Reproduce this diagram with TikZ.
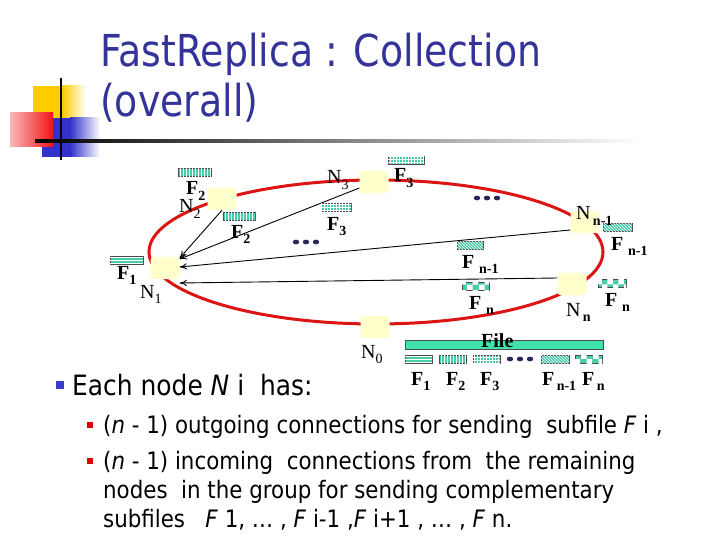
\documentclass[tikz,border=0pt]{standalone}
\usepackage{fontspec}
\setmainfont{DejaVu Sans}[FakeStretch=0.86]
\newfontfamily\bodyfont{DejaVu Sans}[FakeStretch=0.89]
\newfontfamily\labelfont{Liberation Serif}
\usetikzlibrary{arrows.meta, patterns}
\definecolor{titleblue}{RGB}{51, 51, 153}
\definecolor{ringred}{RGB}{220, 20, 20}
\definecolor{peeryellow}{RGB}{255, 255, 204}
\definecolor{barteal}{RGB}{72, 204, 170}
\definecolor{filegreen}{RGB}{64, 228, 170}
\definecolor{dotnavy}{RGB}{40, 40, 90}
\definecolor{logoyellow}{RGB}{255, 204, 0}
\definecolor{logored}{RGB}{240, 20, 20}
\definecolor{logoblue}{RGB}{51, 51, 204}
\definecolor{bulletblue}{RGB}{60, 60, 200}
\definecolor{bulletred}{RGB}{220, 0, 0}
\newcommand{\subF}[1]{\textbf{F}\raisebox{-0.28em}{\fontsize{14}{14}\selectfont\textbf{#1}}}
\newcommand{\subN}[1]{N\raisebox{-0.28em}{\fontsize{14}{14}\selectfont #1}}
\tikzset{
  % Peer node (soft yellow square).
  peer/.style={
    rectangle, rounded corners=3pt,
    fill=peeryellow,
    minimum width=29pt, minimum height=22pt,
    inner sep=0pt,
  },
  % Subfile bars.
  subbar/.style={
    rectangle, draw=black!70, line width=0.5pt,
    fill=barteal,
    minimum width=#1, minimum height=8pt,
    inner sep=0pt,
  },
  bar-hline/.style={subbar=#1, postaction={pattern=horizontal lines, pattern color=white}},
  bar-vline/.style={subbar=#1, postaction={pattern=vertical lines, pattern color=white}},
  bar-grid/.style ={subbar=#1, postaction={pattern=grid, pattern color=white}},
  bar-diag/.style ={subbar=#1, postaction={pattern=north west lines, pattern color=white}},
  bar-check/.style={subbar=#1, postaction={pattern=checkerboard, pattern color=white}},
  % Labels.
  lbl/.style={font=\labelfont\fontsize{20}{22}\selectfont, inner sep=0pt, anchor=base west},
  body/.style={font=\bodyfont\fontsize{24}{29}\selectfont, inner sep=0pt, anchor=base west},
  % Transfer arrows.
  send/.style={-{To[length=2.5mm, width=2.2mm]}, line width=0.9pt},
}
\begin{document}
\begin{tikzpicture}[x=1pt, y=-1pt]
  \useasboundingbox (0,0) rectangle (720,540);

  % Logo.
  \fill[logoyellow] (33,86) rectangle (62,118);
  \shade[left color=logoyellow, right color=white] (62,86) rectangle (86,118);
  \fill[logoblue] (42,118) rectangle (70,157);
  \shade[left color=logoblue, right color=white] (70,118) rectangle (100,157);
  \shade[left color=logored!30, right color=logored] (10,113) rectangle (53,147);
  \shade[left color=black, right color=white] (35,140) rectangle (640,142.5);
  \draw[line width=2pt] (61,78) -- (61,160);

  % Title.
  \node[anchor=base west, inner sep=0pt, text=titleblue, font=\fontsize{44}{48}\selectfont]
    (title1) at (100,67) {FastReplica : Collection};
  \node[anchor=base west, inner sep=0pt, text=titleblue, font=\fontsize{44}{48}\selectfont]
    (title2) at (100,117) {(overall)};

  % Ring.
  \draw[ringred, line width=3pt] (376,252) ellipse (227pt and 72pt);

  % Peers.
  \node[peer] (n1) at (165,268) {};
  \node[peer] (n2) at (222,199) {};
  \node[peer] (n3) at (374,182) {};
  \node[peer] (nm) at (585,222) {};
  \node[peer] (nn) at (572,284) {};
  \node[peer] (n0) at (375,327) {};

  % Subfiles sent to N1.
  \draw[send] (n2.south) -- ([yshift=10pt]n1.east);
  \draw[send] ([yshift=-6pt]n3.west) -- ([yshift=9pt]n1.east);
  \draw[send] ([yshift=-8pt]nm.west) -- ([yshift=1pt]n1.east);
  \draw[send] ([yshift=6pt]nn.west) -- ([yshift=-15pt]n1.east);

  % Bars beside the peers.
  \node[bar-hline=33pt] (b1)  at (126.5,260) {};
  \node[bar-vline=33pt] (b2)  at (194.5,172.5) {};
  \node[bar-vline=32pt] (b2s) at (239,216.5) {};
  \node[bar-grid=36pt]  (b3)  at (406,160) {};
  \node[bar-grid=30pt]  (b3s) at (336,207.5) {};
  \node[bar-diag=29pt]  (bm)  at (617.5,227.5) {};
  \node[bar-diag=26pt]  (bms) at (470,245.5) {};
  \node[bar-check=28pt] (bn)  at (612,283.5) {};
  \node[bar-check=27pt] (bns) at (475.5,286.5) {};

  % Peer and bar labels.
  \node[lbl] (ln1) at (140,298) {\subN{1}};
  \node[lbl] (lf1) at (117,279) {\subF{1}};
  \node[lbl] (ln2) at (179,213) {\subN{2}};
  \node[lbl] (lf2) at (186,195) {\subF{2}};
  \node[lbl] (lf2s) at (231,238) {\subF{2}};
  \node[lbl] (ln3) at (327,184) {\subN{3}};
  \node[lbl] (lf3) at (394,182) {\subF{3}};
  \node[lbl] (lf3s) at (327,230) {\subF{3}};
  \node[lbl] (lnm) at (576,220) {\subN{\,\textbf{n-1}}};
  \node[lbl] (lfm) at (611,250) {\subF{\,\,n-1}};
  \node[lbl] (lfms) at (462,268) {\subF{\,\,n-1}};
  \node[lbl] (lnn) at (566,316) {\subN{\,\textbf{n}}};
  \node[lbl] (lfn) at (605,306) {\subF{\,\,n}};
  \node[lbl] (lfns) at (469,309) {\subF{\,\,n}};
  \node[lbl] (ln0) at (361,358) {\subN{0}};

  % Dots.
  \foreach \dx in {0,10,20} {
    \fill[dotnavy] ({296+\dx},242) ellipse (3.2pt and 2.4pt);
    \fill[dotnavy] ({477+\dx},198) ellipse (3.2pt and 2.4pt);
    \fill[dotnavy] ({510+\dx},359) ellipse (3.2pt and 2.4pt);
  }

  % Whole file and its split.
  \node[subbar=198pt, fill=filegreen, minimum height=9pt] (file) at (504,344.5) {};
  \node[lbl] (lfile) at (481,347) {\textbf{File}};
  \node[bar-hline=27pt] (r1) at (418.5,359) {};
  \node[bar-vline=27pt] (r2) at (452.5,359) {};
  \node[bar-grid=27pt]  (r3) at (486.5,359) {};
  \node[bar-diag=28pt]  (rm) at (555,359) {};
  \node[bar-check=27pt] (rn) at (588.5,359) {};
  \node[lbl] (lr1) at (411,385) {\subF{1}};
  \node[lbl] (lr2) at (446,385) {\subF{2}};
  \node[lbl] (lr3) at (480,385) {\subF{3}};
  \node[lbl] (lrm) at (542,385) {\subF{\,n-1}};
  \node[lbl] (lrn) at (582,385) {\subF{\,n}};

  % Bullet list.
  \fill[bulletblue] (56,381) rectangle (64,389);
  \fill[bulletred] (87,422) rectangle (93,428);
  \fill[bulletred] (87,458) rectangle (93,464);
  \node[body, font=\bodyfont\fontsize{28}{32}\selectfont] (t0) at (72,395) {Each node \textit{N} i\ \ has:};
  \node[body] (t1) at (103,433) {(\textit{n} - 1) outgoing connections for sending\ \ subfile \textit{F} i ,};
  \node[body] (t2) at (103,469) {(\textit{n} - 1) incoming\ \ connections from\ \ the remaining};
  \node[body] (t3) at (103,498) {nodes\ \ in the group for sending complementary};
  \node[body] (t4) at (103,527) {subfiles\ \ \ \textit{F} 1, \dots\ , \textit{F} i-1 ,\textit{F} i+1 , \dots\ , \textit{F} n.};

\end{tikzpicture}
\end{document}
